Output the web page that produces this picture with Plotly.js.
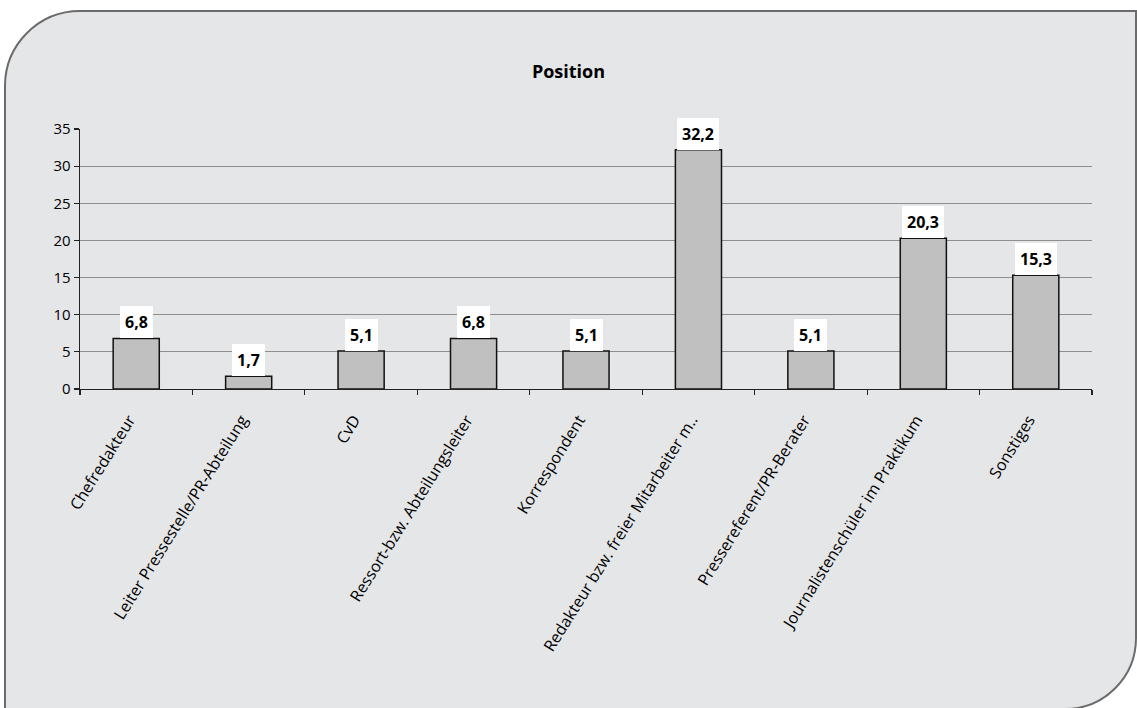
<!DOCTYPE html>
<html>
<head>
<meta charset="utf-8">
<script src="https://cdn.plot.ly/plotly-3.0.1.min.js"></script>
<style>
  html, body { margin: 0; padding: 0; background: #ffffff; }
  #wrap { position: relative; width: 1137px; height: 708px; overflow: hidden; }
  #panel {
    position: absolute; left: 4px; top: 10px; width: 1133px; height: 700px;
    box-sizing: border-box; background: #e5e6e8;
    border: 2.5px solid #6b6b6b;
    border-radius: 76px 0 72px 0;
  }
  #chart { position: absolute; left: 0; top: 0; width: 1137px; height: 708px; }
</style>
</head>
<body>
<div id="wrap">
  <div id="panel"></div>
  <div id="chart"></div>
</div>
<script>
// Anteile nach Position (in Prozent)
const categories = [
  "Chefredakteur",
  "Leiter Pressestelle/PR-Abteilung",
  "CvD",
  "Ressort-bzw. Abteilungsleiter",
  "Korrespondent",
  "Redakteur bzw. freier Mitarbeiter m..",
  "Pressereferent/PR-Berater",
  "Journalistenschüler im Praktikum",
  "Sonstiges"
];
const values = [6.8, 1.7, 5.1, 6.8, 5.1, 32.2, 5.1, 20.3, 15.3];
const valueLabels = values.map(v => v.toFixed(1).replace(".", ","));
const yTicks = [0, 5, 10, 15, 20, 25, 30, 35];
const chartTitle = "Position";

const FONT = "'Open Sans', 'Noto Sans', sans-serif";

const trace = {
  type: "bar",
  x: categories,
  y: values,
  marker: { color: "#c0c0c0", line: { color: "#111111", width: 1.5 } },
  hoverinfo: "skip"
};

// Value labels on white boxes sitting on top of each bar
const annotations = categories.map((c, i) => ({
  x: c, y: values[i], xref: "x", yref: "y",
  text: "<b>" + valueLabels[i] + "</b>",
  showarrow: false, yanchor: "bottom", xanchor: "center",
  bgcolor: "#ffffff", borderwidth: 0, borderpad: 5,
  font: { family: FONT, size: 16, color: "#000000" }
}));

const layout = {
  width: 1137, height: 708,
  margin: { l: 80, r: 45, t: 129, b: 319, pad: 0 },
  paper_bgcolor: "rgba(0,0,0,0)",
  plot_bgcolor: "rgba(0,0,0,0)",
  showlegend: false,
  bargap: 0.59,
  font: { family: FONT, size: 14, color: "#000000" },
  title: {
    text: "<b>" + chartTitle + "</b>",
    x: 0.5, xref: "container", xanchor: "center",
    y: 1 - 72 / 708, yref: "container", yanchor: "middle",
    font: { family: FONT, size: 18, color: "#000000" }
  },
  xaxis: {
    type: "category",
    showgrid: false, zeroline: false,
    showline: true, linecolor: "#222222", linewidth: 1.3,
    ticks: "outside", tickson: "boundaries", ticklen: 5,
    tickcolor: "#222222", tickwidth: 1.2,
    tickangle: -58,
    ticklabelshift: -7, ticklabelstandoff: 14,
    tickfont: { family: FONT, size: 16, color: "#000000" }
  },
  yaxis: {
    range: [0, 35], autorange: false,
    tickvals: yTicks, ticktext: yTicks.map(String),
    showgrid: true, gridcolor: "#8e8e8e", gridwidth: 1,
    zeroline: false,
    showline: true, linecolor: "#222222", linewidth: 1.3,
    ticks: "outside", ticklen: 5, tickcolor: "#222222", tickwidth: 1.2,
    tickfont: { family: FONT, size: 15, color: "#000000" }
  },
  annotations: annotations
};

Plotly.newPlot("chart", [trace], layout, { displayModeBar: false, staticPlot: true });
</script>
</body>
</html>
